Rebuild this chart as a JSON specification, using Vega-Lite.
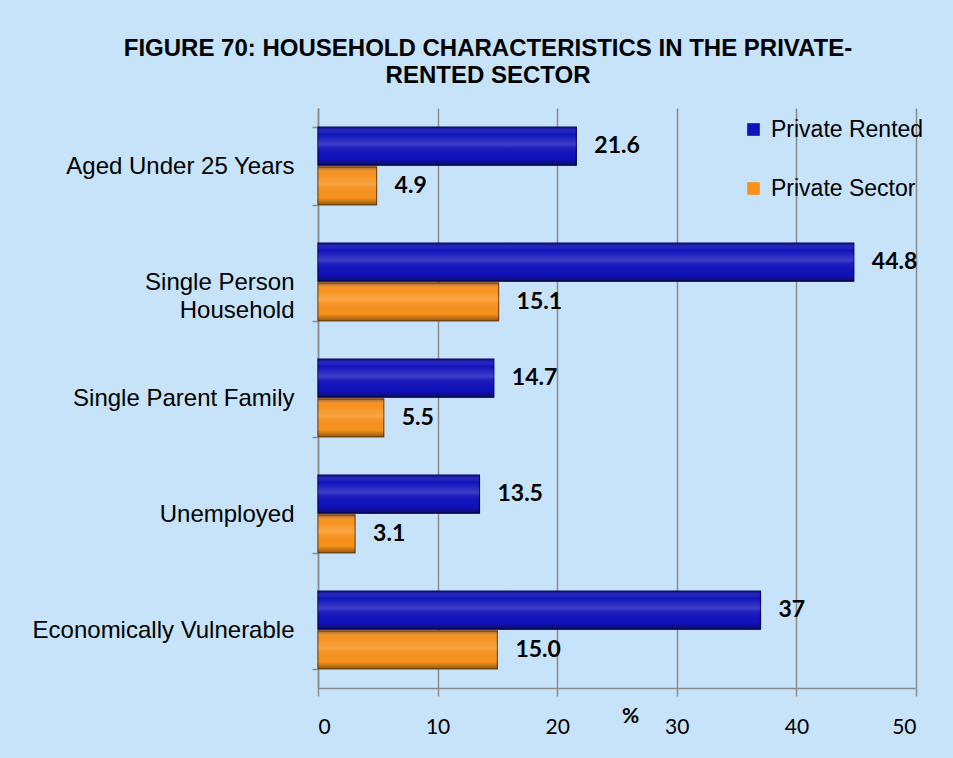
{
  "$schema": "https://vega.github.io/schema/vega-lite/v6.json",
  "width": 598,
  "height": 580,
  "autosize": {"type": "none"},
  "padding": {"left": 318, "top": 108, "right": 37, "bottom": 70},
  "background": "#c6e3fa",
  "title": {
    "text": ["FIGURE 70: HOUSEHOLD CHARACTERISTICS IN THE PRIVATE-", "RENTED SECTOR"],
    "font": "Liberation Sans",
    "fontSize": 24,
    "fontWeight": "bold",
    "color": "#000000",
    "lineHeight": 27,
    "anchor": "middle",
    "dx": -129,
    "offset": 8
  },
  "config": {
    "view": {"stroke": null},
    "font": "Liberation Sans"
  },
  "data": {
    "values": [
      {"category": "Aged Under 25 Years", "series": "Private Rented", "value": 21.6, "label": "21.6"},
      {"category": "Aged Under 25 Years", "series": "Private Sector", "value": 4.9, "label": "4.9"},
      {"category": "Single Person Household", "series": "Private Rented", "value": 44.8, "label": "44.8"},
      {"category": "Single Person Household", "series": "Private Sector", "value": 15.1, "label": "15.1"},
      {"category": "Single Parent Family", "series": "Private Rented", "value": 14.7, "label": "14.7"},
      {"category": "Single Parent Family", "series": "Private Sector", "value": 5.5, "label": "5.5"},
      {"category": "Unemployed", "series": "Private Rented", "value": 13.5, "label": "13.5"},
      {"category": "Unemployed", "series": "Private Sector", "value": 3.1, "label": "3.1"},
      {"category": "Economically Vulnerable", "series": "Private Rented", "value": 37, "label": "37"},
      {"category": "Economically Vulnerable", "series": "Private Sector", "value": 15.0, "label": "15.0"}
    ]
  },
  "encoding": {
    "y": {
      "field": "category",
      "type": "nominal",
      "sort": null,
      "scale": {"paddingInner": 0.33, "paddingOuter": 0.165},
      "axis": {
        "title": null,
        "domainColor": "#8c8c8c",
        "domainWidth": 1.5,
        "tickColor": "#8c8c8c",
        "tickWidth": 1.5,
        "tickSize": 6,
        "tickBand": "extent",
        "labelFont": "Liberation Sans",
        "labelFontSize": 24,
        "labelColor": "#000000",
        "labelPadding": 18,
        "labelLimit": 400,
        "labelExpr": "datum.value == 'Single Person Household' ? ['Single Person', 'Household'] : datum.value",
        "labelLineHeight": 28
      }
    },
    "yOffset": {
      "field": "series",
      "type": "nominal",
      "sort": ["Private Rented", "Private Sector"],
      "scale": {"paddingInner": 0.04}
    },
    "x": {
      "field": "value",
      "type": "quantitative",
      "scale": {"domain": [0, 50], "nice": false},
      "axis": {
        "title": "%",
        "titleFont": "Lato",
        "titleFontSize": 21,
        "titleFontWeight": "bold",
        "titleColor": "#000000",
        "titleX": 312,
        "titleY": 34,
        "titleAlign": "center",
        "titleBaseline": "alphabetic",
        "values": [0, 10, 20, 30, 40, 50],
        "grid": true,
        "gridColor": "#8c8c8c",
        "gridWidth": 1.5,
        "domainColor": "#8c8c8c",
        "domainWidth": 1.5,
        "tickColor": "#8c8c8c",
        "tickWidth": 1.5,
        "tickSize": 8,
        "labelFont": "Lato",
        "labelFontSize": 21,
        "labelColor": "#000000",
        "labelPadding": 20
      }
    }
  },
  "layer": [
    {
      "mark": {"type": "bar", "strokeWidth": 1.2},
      "encoding": {
        "color": {
          "field": "series",
          "type": "nominal",
          "scale": {"domain": ["Private Rented", "Private Sector"], "range": ["#1212bc", "#f7911c"]},
          "legend": {
            "title": null,
            "orient": "none",
            "legendX": 424,
            "legendY": 10,
            "symbolType": "square",
            "symbolSize": 160,
            "symbolStrokeWidth": 0,
            "labelFont": "Liberation Sans",
            "labelFontSize": 23,
            "labelColor": "#000000",
            "labelOffset": 6,
            "labelLimit": 300,
            "rowPadding": 35
          }
        },
        "stroke": {
          "field": "series",
          "type": "nominal",
          "scale": {"domain": ["Private Rented", "Private Sector"], "range": ["#000066", "#8a4800"]},
          "legend": null
        }
      }
    },
    {
      "mark": {
        "type": "bar",
        "fill": {
          "gradient": "linear", "x1": 0, "y1": 0, "x2": 0, "y2": 1,
          "stops": [
            {"offset": 0, "color": "rgba(0,0,60,0.35)"},
            {"offset": 0.18, "color": "rgba(255,255,255,0)"},
            {"offset": 0.45, "color": "rgba(255,255,255,0.18)"},
            {"offset": 0.55, "color": "rgba(255,255,255,0.05)"},
            {"offset": 0.82, "color": "rgba(0,0,0,0)"},
            {"offset": 1, "color": "rgba(0,0,0,0.4)"}
          ]
        },
        "strokeWidth": 0
      }
    },
    {
      "mark": {
        "type": "text",
        "align": "left",
        "baseline": "middle",
        "dx": 18,
        "font": "Lato",
        "fontSize": 23,
        "fontWeight": "bold",
        "color": "#000000"
      },
      "encoding": {"text": {"field": "label"}}
    }
  ]
}
